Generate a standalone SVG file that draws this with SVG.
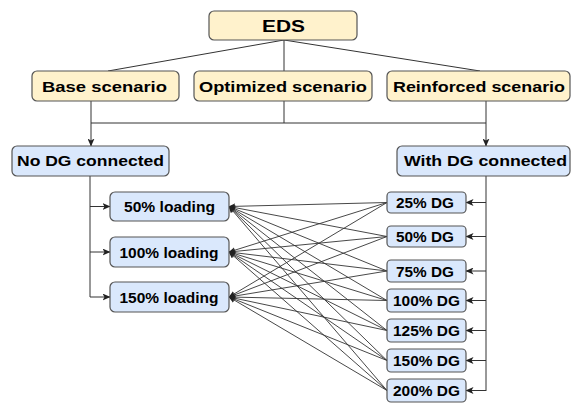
<svg xmlns="http://www.w3.org/2000/svg" width="572" height="403" viewBox="0 0 572 403">
<defs>
<marker id="arr" viewBox="0 0 8 7" refX="7.5" refY="3.5" markerWidth="8" markerHeight="7" markerUnits="userSpaceOnUse" orient="auto">
<path d="M0,0 L8,3.5 L0,7 L2,3.5 z" fill="#222"/>
</marker>
<marker id="arrs" viewBox="0 0 8 7" refX="7.5" refY="3.5" markerWidth="7" markerHeight="6" markerUnits="userSpaceOnUse" orient="auto">
<path d="M0,0 L8,3.5 L0,7 L2,3.5 z" fill="#222"/>
</marker>
</defs>
<style>
.y{fill:#FFF2CC;stroke:#555;stroke-width:1.2}
.b{fill:#DAE8FC;stroke:#555;stroke-width:1.2}
text{font-family:"Liberation Sans",Arial,sans-serif;font-weight:bold;fill:#000;text-anchor:middle}
.t16{font-size:17px}
.t14{font-size:15px}
.t13{font-size:14px}
.c line,.c path{stroke:#333;stroke-width:1;fill:none}
.x line{stroke:#333;stroke-width:0.9;fill:none}
</style>
<rect width="572" height="403" fill="#fff"/>
<g id="connectors" class="c">
<line x1="284" y1="40" x2="108" y2="71"/>
<line x1="284" y1="40" x2="284" y2="71"/>
<line x1="284" y1="40" x2="480" y2="71"/>
<line x1="284" y1="101" x2="284" y2="123"/>
<line x1="91" y1="123" x2="486" y2="123"/>
<path d="M91,101 V146" marker-end="url(#arr)"/>
<path d="M486,101 V146" marker-end="url(#arr)"/>
<path d="M90,176 V297"/>
<path d="M90,206.5 H110" marker-end="url(#arr)"/>
<path d="M90,252 H110" marker-end="url(#arr)"/>
<path d="M90,297 H110" marker-end="url(#arr)"/>
<path d="M486,176 V391"/>
<path d="M486,202.5 H466" marker-end="url(#arr)"/>
<path d="M486,236.5 H466" marker-end="url(#arr)"/>
<path d="M486,271 H466" marker-end="url(#arr)"/>
<path d="M486,300.5 H466" marker-end="url(#arr)"/>
<path d="M486,330.5 H466" marker-end="url(#arr)"/>
<path d="M486,360.5 H466" marker-end="url(#arr)"/>
<path d="M486,390.5 H466" marker-end="url(#arr)"/>
<g class="x">
<line x1="387" y1="202.5" x2="229" y2="206.5" marker-end="url(#arrs)"/>
<line x1="387" y1="236.5" x2="229" y2="206.5" marker-end="url(#arrs)"/>
<line x1="387" y1="271" x2="229" y2="206.5" marker-end="url(#arrs)"/>
<line x1="387" y1="300.5" x2="229" y2="206.5" marker-end="url(#arrs)"/>
<line x1="387" y1="330.5" x2="229" y2="206.5" marker-end="url(#arrs)"/>
<line x1="387" y1="360.5" x2="229" y2="206.5" marker-end="url(#arrs)"/>
<line x1="387" y1="390.5" x2="229" y2="206.5" marker-end="url(#arrs)"/>
<line x1="387" y1="202.5" x2="229" y2="252" marker-end="url(#arrs)"/>
<line x1="387" y1="236.5" x2="229" y2="252" marker-end="url(#arrs)"/>
<line x1="387" y1="271" x2="229" y2="252" marker-end="url(#arrs)"/>
<line x1="387" y1="300.5" x2="229" y2="252" marker-end="url(#arrs)"/>
<line x1="387" y1="330.5" x2="229" y2="252" marker-end="url(#arrs)"/>
<line x1="387" y1="360.5" x2="229" y2="252" marker-end="url(#arrs)"/>
<line x1="387" y1="390.5" x2="229" y2="252" marker-end="url(#arrs)"/>
<line x1="387" y1="202.5" x2="229" y2="297" marker-end="url(#arrs)"/>
<line x1="387" y1="236.5" x2="229" y2="297" marker-end="url(#arrs)"/>
<line x1="387" y1="271" x2="229" y2="297" marker-end="url(#arrs)"/>
<line x1="387" y1="300.5" x2="229" y2="297" marker-end="url(#arrs)"/>
<line x1="387" y1="330.5" x2="229" y2="297" marker-end="url(#arrs)"/>
<line x1="387" y1="360.5" x2="229" y2="297" marker-end="url(#arrs)"/>
<line x1="387" y1="390.5" x2="229" y2="297" marker-end="url(#arrs)"/>
</g>
</g>
<g id="eds"><rect class="y" x="209" y="11" width="148" height="29" rx="5"/><text class="t16" x="283.5" y="31.5" textLength="43" lengthAdjust="spacingAndGlyphs">EDS</text></g>
<g id="base"><rect class="y" x="32" y="71" width="147" height="30" rx="5"/><text class="t14" x="104.5" y="91.5" textLength="125" lengthAdjust="spacingAndGlyphs">Base scenario</text></g>
<g id="optimized"><rect class="y" x="194" y="71" width="178" height="30" rx="5"/><text class="t14" x="283" y="91.5" textLength="168" lengthAdjust="spacingAndGlyphs">Optimized scenario</text></g>
<g id="reinforced"><rect class="y" x="387" y="71" width="183" height="30" rx="5"/><text class="t14" x="479" y="91.5" textLength="172" lengthAdjust="spacingAndGlyphs">Reinforced scenario</text></g>
<g id="nodg"><rect class="b" x="12" y="146" width="157" height="30" rx="5"/><text class="t13" x="90.5" y="166" textLength="147" lengthAdjust="spacingAndGlyphs">No DG connected</text></g>
<g id="withdg"><rect class="b" x="397" y="146" width="173" height="30" rx="5"/><text class="t13" x="485.5" y="166" textLength="163" lengthAdjust="spacingAndGlyphs">With DG connected</text></g>
<g id="load50"><rect class="b" x="110" y="192" width="119" height="29" rx="5"/><text class="t13" x="169.5" y="212" textLength="91" lengthAdjust="spacingAndGlyphs">50% loading</text></g>
<g id="load100"><rect class="b" x="110" y="237" width="119" height="30" rx="5"/><text class="t13" x="169" y="257.5" textLength="99" lengthAdjust="spacingAndGlyphs">100% loading</text></g>
<g id="load150"><rect class="b" x="110" y="282" width="119" height="30" rx="5"/><text class="t13" x="169" y="302.5" textLength="99" lengthAdjust="spacingAndGlyphs">150% loading</text></g>
<g id="dg25"><rect class="b" x="387" y="192" width="79" height="21" rx="4"/><text class="t13" x="425" y="208" textLength="58" lengthAdjust="spacingAndGlyphs">25% DG</text></g>
<g id="dg50"><rect class="b" x="387" y="226" width="79" height="21" rx="4"/><text class="t13" x="425" y="242" textLength="58" lengthAdjust="spacingAndGlyphs">50% DG</text></g>
<g id="dg75"><rect class="b" x="387" y="260" width="79" height="22" rx="4"/><text class="t13" x="425" y="276.5" textLength="58" lengthAdjust="spacingAndGlyphs">75% DG</text></g>
<g id="dg100"><rect class="b" x="387" y="289" width="79" height="23" rx="4"/><text class="t13" x="426.5" y="306" textLength="67" lengthAdjust="spacingAndGlyphs">100% DG</text></g>
<g id="dg125"><rect class="b" x="387" y="319" width="79" height="23" rx="4"/><text class="t13" x="426.5" y="336" textLength="67" lengthAdjust="spacingAndGlyphs">125% DG</text></g>
<g id="dg150"><rect class="b" x="387" y="349" width="79" height="23" rx="4"/><text class="t13" x="426.5" y="366" textLength="67" lengthAdjust="spacingAndGlyphs">150% DG</text></g>
<g id="dg200"><rect class="b" x="387" y="379" width="79" height="23" rx="4"/><text class="t13" x="426.5" y="396" textLength="67" lengthAdjust="spacingAndGlyphs">200% DG</text></g>
</svg>
